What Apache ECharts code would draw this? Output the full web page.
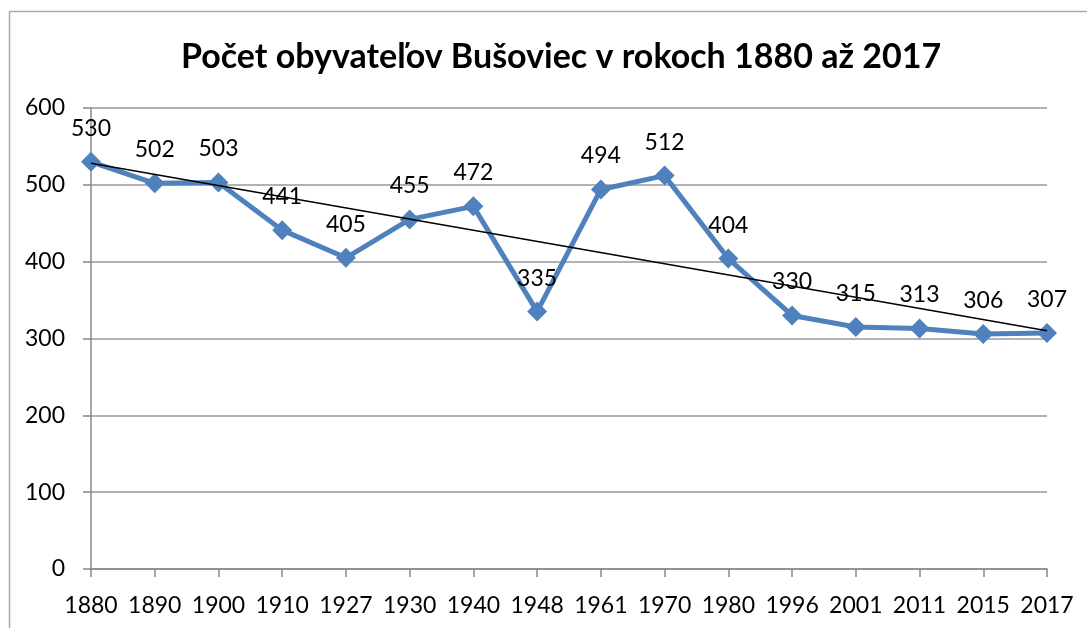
<!DOCTYPE html>
<html>
<head>
<meta charset="utf-8">
<script src="https://cdn.jsdelivr.net/npm/echarts@6/dist/echarts.min.js"></script>
<style>
  html, body { margin: 0; padding: 0; background: #fff; }
  #main { width: 1087px; height: 628px; }
</style>
</head>
<body>
<div id="main"></div>
<script>
// years and population counts
const years = ['1880', '1890', '1900', '1910', '1927', '1930', '1940', '1948', '1961', '1970', '1980', '1996', '2001', '2011', '2015', '2017']
const population = [530, 502, 503, 441, 405, 455, 472, 335, 494, 512, 404, 330, 315, 313, 306, 307]
// linear trend line, start and end
const trendStart = 528
const trendEnd = 310

const trend = years.map((y, i) => {
  if (i === 0) return trendStart
  if (i === years.length - 1) return trendEnd
  return null
})

const chart = echarts.init(document.getElementById('main'))
const font = 'Lato, "Noto Sans", sans-serif'
const option = {
  backgroundColor: '#fff',
  animation: false,
  title: {
    text: 'Počet obyvateľov Bušoviec v rokoch 1880 až 2017',
    left: 176,
    top: 35,
    textStyle: {
      fontFamily: font,
      fontWeight: 'bold',
      fontSize: 34,
      color: '#000'
    }
  },
  graphic: [{
    type: 'rect',
    shape: { x: 9.5, y: 11.5, width: 1100, height: 700 },
    style: { fill: 'none', stroke: '#aaa', lineWidth: 1.5 },
    silent: true
  }],
  grid: {
    left: 91,
    right: 40,
    top: 108,
    bottom: 59
  },
  xAxis: {
    type: 'category',
    data: years,
    boundaryGap: false,
    axisLine: { lineStyle: { color: '#888', width: 1.5 } },
    axisTick: { show: true, length: 8, alignWithLabel: true, lineStyle: { color: '#888', width: 1.5 } },
    axisLabel: {
      fontFamily: font,
      fontSize: 23,
      color: '#000',
      margin: 25,
      interval: 0
    }
  },
  yAxis: {
    type: 'value',
    min: 0,
    max: 600,
    interval: 100,
    axisLine: { show: true, lineStyle: { color: '#888', width: 1.5 } },
    axisTick: { show: true, length: 8, lineStyle: { color: '#888', width: 1.5 } },
    axisLabel: {
      fontFamily: font,
      fontSize: 23,
      color: '#000',
      margin: 26
    },
    splitLine: { lineStyle: { color: '#999', width: 1.5 } }
  },
  series: [{
    name: 'Počet obyvateľov',
    type: 'line',
    data: population,
    symbol: 'diamond',
    symbolSize: 20,
    lineStyle: { color: '#4F81BD', width: 5 },
    itemStyle: { color: '#4F81BD' },
    label: {
      show: true,
      position: 'top',
      distance: 12,
      fontFamily: font,
      fontSize: 23,
      color: '#000'
    },
    z: 2
  }, {
    name: 'Trend',
    type: 'line',
    data: trend,
    connectNulls: true,
    symbol: 'none',
    lineStyle: { color: '#000', width: 1.5 },
    z: 3
  }]
}
chart.setOption(option)
</script>
</body>
</html>
